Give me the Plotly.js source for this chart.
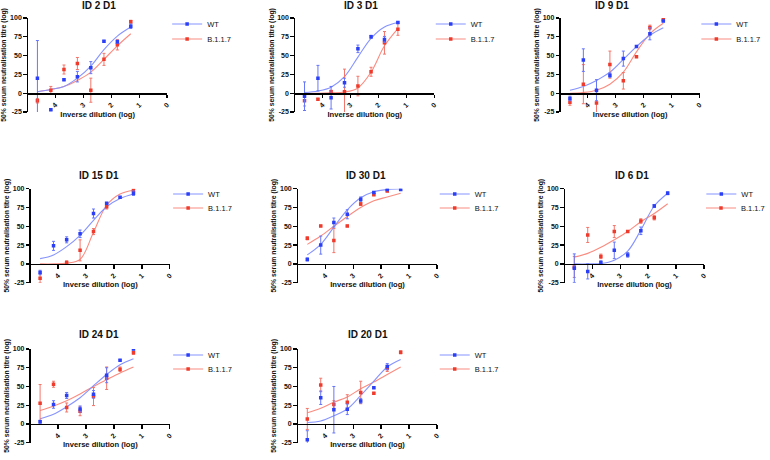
<!DOCTYPE html>
<html>
<head>
<meta charset="utf-8">
<script src="https://cdn.plot.ly/plotly-3.0.1.min.js"></script>
<style>html,body{margin:0;padding:0;background:#fff;}#chart{width:770px;height:460px;}</style>
</head>
<body>
<div id="chart"></div>
<script>
// ---- data (x = log10 of inverse dilution, 3-fold series from 1:20) ----
const logDilution = [-4.64, -4.16, -3.69, -3.21, -2.73, -2.26, -1.78, -1.30];
const xTickVals = [-4, -3, -2, -1, 0];
const xTickText = ['4', '3', '2', '1', '0'];
const yTickVals = [-25, 0, 25, 50, 75, 100];
const yTickText = ['-25', '0', '25', '50', '75', '100'];
const seriesNames = ['WT', 'B.1.1.7'];
const panelTitles = ['ID 2 D1', 'ID 3 D1', 'ID 9 D1', 'ID 15 D1', 'ID 30 D1', 'ID 6 D1', 'ID 24 D1', 'ID 20 D1'];

const id2_wt = [20, -22, 18, 22, 34, 69, 68.5, 89];
const id2_wtErr = [50, 1, 1, 7, 8, 1, 2, 3];
const id2_b117 = [-10, 4, 31.5, 39.5, 4, 45, 64.5, 95];
const id2_b117Err = [3, 5, 6, 8, 16, 8, 7, 2];
const id2_wtFit = [2, 5, 9, 20, 36, 58, 76, 88];
const id2_b117Fit = [2, 5, 9, 17, 28, 45, 63, 79];

const id3_wt = [-4, 20, -6, 14, 59, 75, 71.5, 94];
const id3_wtErr = [19, 17, 15, 6, 5, 2, 4, 1];
const id3_b117 = [-10, -8, 2, 2, 9.5, 28.5, 67, 85];
const id3_b117Err = [7, 1, 2, 30, 13, 6, 15, 8];
const id3_wtFit = [1, 3, 8, 22, 48, 73, 88, 94];
const id3_b117Fit = [0, 0, 0.5, 1.5, 7, 28, 63, 86];

const id9_wt = [-7, 44, 4, 24, 46, 62, 79, 96];
const id9_wtErr = [3, 15, 14, 3, 10, 1, 8, 1];
const id9_b117 = [-12, 12, -13, 38, 16.5, 48.5, 87.5, 98];
const id9_b117Err = [4, 26, 13, 18, 11, 1, 3, 2];
const id9_wtFit = [4, 9, 17, 28, 45, 62, 77, 87];
const id9_b117Fit = [0, 1, 4, 12, 28, 55, 79, 93];

const id15_wt = [-11.5, 24, 32, 40, 67, 80.5, 88.5, 94];
const id15_wtErr = [3, 6, 4, 5, 6, 1, 1, 3];
const id15_b117 = [-19, null, 2, 18, 43, 76, null, 98];
const id15_b117Err = [6, 0, 2, 14, 4, 3, 0, 1];
const id15_wtFit = [7, 12, 23, 38, 58, 76, 87, 93];
const id15_b117Fit = [0, 0, 1, 6, 42, 78, 93, 98];

const id30_wt = [6, 25, 55, 66, 86, 95, 99, 99];
const id30_wtErr = [2, 12, 6, 6, 3, 1, 1, 1];
const id30_b117 = [34, 50.5, 31, 50.5, 79.6, 92, 97, null];
const id30_b117Err = [2, 1, 16, 1, 2, 1, 1, 0];
const id30_wtFit = [12, 26, 49, 72, 88, 96, 99, 100];
const id30_b117Fit = [26, 37, 50, 63, 75, 84, 89, 94];

const id6_wt = [-5.7, -10, 2, 18, 12, 44, 77, 94];
const id6_wtErr = [19, 10, 2, 11, 3, 5, 2, 2];
const id6_b117 = [-4, 38.5, 10, 43, 43, 57, 61.5, null];
const id6_b117Err = [14, 10, 3, 8, 1, 3, 3, 0];
const id6_wtFit = [0, 0, 0.5, 5, 17, 45, 77, 94];
const id6_b117Fit = [9, 14, 22, 32, 43, 56, 67, 80];

const id24_wt = [3, 26, 38, 20, 39.5, 65, 85, 100];
const id24_wtErr = [2, 5, 4, 4, 5, 10, 1, 1];
const id24_b117 = [27.6, 53, 22, 17, 36.5, 61, 73, 95];
const id24_b117Err = [25, 4, 6, 6, 12, 15, 3, 2];
const id24_wtFit = [7, 13, 23, 35, 51, 66, 79, 87];
const id24_b117Fit = [18, 24, 31, 40, 50, 59, 68, 76];

const id20_wt = [-21, 35, 19, 19.5, 30.7, 48.4, 76.5, null];
const id20_wtErr = [12, 9, 31, 7, 3, 1, 4, 0];
const id20_b117 = [6.7, 52, 26, 29, 42, 41, 74, 95.5];
const id20_b117Err = [14, 9, 5, 10, 15, 1, 4, 2];
const id20_wtFit = [2, 4, 11, 20, 38, 57, 76, 86];
const id20_b117Fit = [15, 21, 29, 36, 47, 56, 66, 76];

// ---- styling / layout (pixels in the 770x460 page) ----
const W = 770, H = 460;
const FONT = 'Liberation Sans, Arial, sans-serif';
const WT_POINT = '#2b3ff6', WT_LINE = '#8694ff', WT_ERR = '#6676fa';
const B_POINT = '#ef3b2c', B_LINE = '#fb8c80', B_ERR = '#f4766a';
const XMIN = -4.97;

const panelData = [
  [id2_wt, id2_wtErr, id2_b117, id2_b117Err, id2_wtFit, id2_b117Fit],
  [id3_wt, id3_wtErr, id3_b117, id3_b117Err, id3_wtFit, id3_b117Fit],
  [id9_wt, id9_wtErr, id9_b117, id9_b117Err, id9_wtFit, id9_b117Fit],
  [id15_wt, id15_wtErr, id15_b117, id15_b117Err, id15_wtFit, id15_b117Fit],
  [id30_wt, id30_wtErr, id30_b117, id30_b117Err, id30_wtFit, id30_b117Fit],
  [id6_wt, id6_wtErr, id6_b117, id6_b117Err, id6_wtFit, id6_b117Fit],
  [id24_wt, id24_wtErr, id24_b117, id24_b117Err, id24_wtFit, id24_b117Fit],
  [id20_wt, id20_wtErr, id20_b117, id20_b117Err, id20_wtFit, id20_b117Fit]
];
// x1: pixel of x=0 tick; top/bot: pixels of y=100 / y=-25
const frames = [
  {x1: 168.0, top: 18.0, bot: 112.0, tx: 100, ty: 5, ytx: 8, lx: 208, ly: [24, 39]},
  {x1: 436.5, top: 18.0, bot: 112.0, tx: 363, ty: 5, ytx: 270, lx: 473, ly: [24, 39]},
  {x1: 703.3, top: 18.0, bot: 112.0, tx: 615, ty: 5, ytx: 536, lx: 740, ly: [24, 39]},
  {x1: 170.7, top: 188.7, bot: 282.7, tx: 100, ty: 175, ytx: 5, lx: 209, ly: [194, 208]},
  {x1: 439.3, top: 188.7, bot: 282.7, tx: 368, ty: 175, ytx: 273, lx: 477, ly: [194, 208]},
  {x1: 707.7, top: 188.7, bot: 282.7, tx: 635, ty: 175, ytx: 543, lx: 745, ly: [194, 208]},
  {x1: 170.7, top: 349.0, bot: 442.7, tx: 100, ty: 334, ytx: 5, lx: 209, ly: [355, 369]},
  {x1: 439.3, top: 349.0, bot: 442.7, tx: 370, ty: 334, ytx: 273, lx: 477, ly: [355, 369]}
];
const PX_PER_UNIT = 28.1;

const fx = p => p / W;
const fy = p => 1 - p / H;

const traces = [];
const layout = {
  width: W, height: H,
  margin: {l: 0, r: 0, t: 0, b: 0},
  paper_bgcolor: '#fff', plot_bgcolor: 'rgba(0,0,0,0)',
  showlegend: true,
  font: {family: FONT, color: '#111'},
  annotations: []
};

panelData.forEach((d, i) => {
  const f = frames[i];
  const n = i === 0 ? '' : String(i + 1);
  const xr = 'x' + n, yr = 'y' + n;
  const x0 = f.x1 - (-XMIN) * PX_PER_UNIT;
  const zeroPx = f.top + (f.bot - f.top) * 100 / 125;

  layout['xaxis' + n] = {
    domain: [fx(x0), fx(f.x1)], range: [XMIN, 0],
    anchor: 'free', position: fy(zeroPx),
    tickvals: xTickVals, ticktext: xTickText, tickangle: -45,
    ticks: 'outside', ticklen: 3.5, tickwidth: 1.3, tickcolor: '#000',
    showline: true, linewidth: 1.5, linecolor: '#000',
    showgrid: false, zeroline: false, fixedrange: true,
    tickfont: {family: FONT, size: 7, color: '#111', weight: 'bold'},
    title: {text: 'Inverse dilution (log)', standoff: 3,
            font: {family: FONT, size: 7.6, color: '#111', weight: 'bold'}}
  };
  layout['yaxis' + n] = {
    domain: [fy(f.bot), fy(f.top)], range: [-25, 100],
    anchor: xr,
    tickvals: yTickVals, ticktext: yTickText,
    ticks: 'outside', ticklen: 3.5, tickwidth: 1.3, tickcolor: '#000',
    showline: true, linewidth: 1.5, linecolor: '#000',
    showgrid: false, zeroline: false, fixedrange: true,
    tickfont: {family: FONT, size: 7, color: '#111', weight: 'bold'},
    title: {text: '50% serum neutralisation titre (log)', standoff: 2,
            font: {family: FONT, size: 6.8, color: '#111', weight: 'bold'}}
  };
  layout.annotations.push({
    text: panelTitles[i], xref: 'paper', yref: 'paper',
    x: fx(f.tx), y: fy(f.ty), xanchor: 'center', yanchor: 'middle',
    showarrow: false, font: {family: FONT, size: 10, color: '#111', weight: 'bold'}
  });

  const [wt, wtErr, b, bErr, wtFit, bFit] = d;
  // fitted curves first (underneath)
  traces.push({x: logDilution, y: bFit, xaxis: xr, yaxis: yr, type: 'scatter', mode: 'lines',
    line: {color: B_LINE, width: 1.1, shape: 'spline', smoothing: 1}, showlegend: false, hoverinfo: 'skip'});
  traces.push({x: logDilution, y: wtFit, xaxis: xr, yaxis: yr, type: 'scatter', mode: 'lines',
    line: {color: WT_LINE, width: 1.1, shape: 'spline', smoothing: 1}, showlegend: false, hoverinfo: 'skip'});
  // mean +/- SD points
  traces.push({x: logDilution, y: b, xaxis: xr, yaxis: yr, type: 'scatter', mode: 'markers',
    marker: {symbol: 'square', size: 3.5, color: B_POINT},
    error_y: {type: 'data', array: bErr, visible: true, color: B_ERR, thickness: 1, width: 1.5},
    showlegend: false, hoverinfo: 'skip'});
  traces.push({x: logDilution, y: wt, xaxis: xr, yaxis: yr, type: 'scatter', mode: 'markers',
    marker: {symbol: 'square', size: 3.5, color: WT_POINT},
    error_y: {type: 'data', array: wtErr, visible: true, color: WT_ERR, thickness: 1, width: 1.5},
    showlegend: false, hoverinfo: 'skip'});

  // legend entries (one legend box per entry so each can be placed)
  [[seriesNames[0], WT_LINE, WT_POINT], [seriesNames[1], B_LINE, B_POINT]].forEach((s, k) => {
    const idx = 2 * i + k;
    const key = idx === 0 ? 'legend' : 'legend' + (idx + 1);
    layout[key] = {
      x: fx(f.lx - 40), y: fy(f.ly[k]), xanchor: 'left', yanchor: 'middle',
      bgcolor: 'rgba(0,0,0,0)', borderwidth: 0,
      font: {family: FONT, size: 7.5, color: '#111'}
    };
    traces.push({x: [null], y: [null], xaxis: xr, yaxis: yr, type: 'scatter', mode: 'lines+markers',
      name: s[0], legend: key, showlegend: true,
      line: {color: s[1], width: 1.1}, marker: {symbol: 'square', size: 3.5, color: s[2]},
      hoverinfo: 'skip'});
  });
});

Plotly.newPlot('chart', traces, layout, {staticPlot: true, displayModeBar: false});
</script>
</body>
</html>
